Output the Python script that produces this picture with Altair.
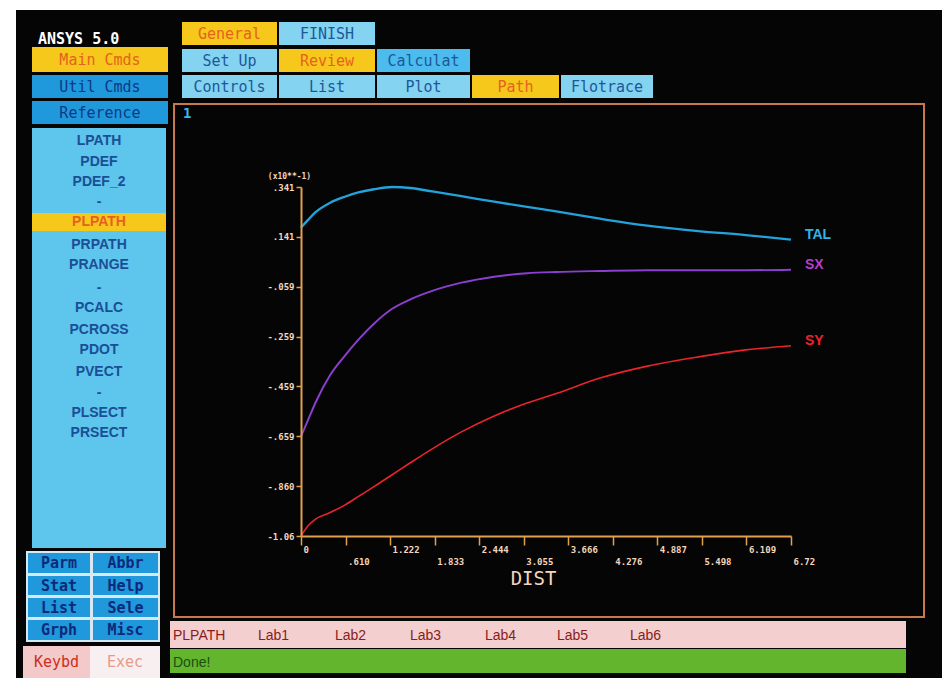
import json
import altair as alt
import pandas as pd

# ---------------- path plot data (PLPATH along DIST, values x10**-1) ----------------
DIST = [0.0, 0.1, 0.2, 0.4, 0.6, 0.8, 1.0, 1.25, 1.5, 1.8, 2.2, 2.65, 3.1, 3.5, 4.1, 4.75, 5.45, 6.1, 6.72]
TAL = [0.178, 0.210, 0.240, 0.278, 0.302, 0.320, 0.332, 0.341, 0.337, 0.323, 0.304, 0.282,
       0.261, 0.243, 0.214, 0.186, 0.164, 0.148, 0.130]
SX = [-0.660, -0.592, -0.524, -0.414, -0.337, -0.268, -0.208, -0.148, -0.110, -0.076, -0.043,
      -0.019, -0.005, 0.000, 0.004, 0.007, 0.007, 0.007, 0.009]
SY = [-1.060, -1.018, -0.992, -0.966, -0.936, -0.899, -0.862, -0.814, -0.766, -0.710, -0.642,
      -0.578, -0.526, -0.488, -0.426, -0.378, -0.341, -0.313, -0.296]
SERIES = ["TAL", "SX", "SY"]

X_TICKS = [0, 0.6109, 1.2218, 1.8327, 2.4436, 3.0545, 3.6655, 4.2764, 4.8873, 5.4982, 6.1091, 6.72]
X_TICK_LABELS = ["0", ".610", "1.222", "1.833", "2.444", "3.055", "3.666", "4.276", "4.887",
                 "5.498", "6.109", "6.72"]
Y_TICKS = [-1.06, -0.8599, -0.6597, -0.4596, -0.2594, -0.0593, 0.1409, 0.341]
Y_TICK_LABELS = ["-1.06", "-.860", "-.659", "-.459", "-.259", "-.059", ".141", ".341"]

# ---------------- menu texts ----------------
PANEL_ITEMS = ["LPATH", "PDEF", "PDEF_2", "-", "PLPATH", "PRPATH", "PRANGE", "-",
               "PCALC", "PCROSS", "PDOT", "PVECT", "-", "PLSECT", "PRSECT"]
TOOL_BUTTONS = ["Parm", "Abbr", "Stat", "Help", "List", "Sele", "Grph", "Misc"]
BAR_LABELS = ["PLPATH", "Lab1", "Lab2", "Lab3", "Lab4", "Lab5", "Lab6"]

# ---------------- palette ----------------
YELLOW, YELLOW_INK = "#f7c81c", "#e5621e"
CYAN, CYAN_INK = "#84d3f1", "#1c5898"
BLUE, BLUE_INK = "#1f98dc", "#0c3a86"
PANEL, PANEL_INK = "#5ec5ec", "#1a4f96"
AXIS_COLOR, AXIS_INK = "#e0a050", "#f4d6bc"
MONO, SANS = "DejaVu Sans Mono", "Liberation Sans"

# ---------------- screen layout (pixel boxes) ----------------
buttons = [  # label, x0, x1, y0, y1, fill, ink
    ("Main Cmds", 32, 168, 47, 72, YELLOW, YELLOW_INK),
    ("Util Cmds", 32, 168, 75, 98, BLUE, BLUE_INK),
    ("Reference", 32, 168, 101, 124, BLUE, BLUE_INK),
    ("General", 182, 277, 22, 45, YELLOW, YELLOW_INK),
    ("FINISH", 279, 375, 22, 45, CYAN, CYAN_INK),
    ("Set Up", 182, 277, 49, 72, CYAN, CYAN_INK),
    ("Review", 279, 375, 49, 72, YELLOW, YELLOW_INK),
    ("Calculat", 377, 470, 49, 72, "#4cbcef", CYAN_INK),
    ("Controls", 182, 277, 75, 98, CYAN, CYAN_INK),
    ("List", 279, 375, 75, 98, CYAN, CYAN_INK),
    ("Plot", 377, 470, 75, 98, CYAN, CYAN_INK),
    ("Path", 472, 559, 75, 98, YELLOW, YELLOW_INK),
    ("Flotrace", 561, 653, 75, 98, CYAN, CYAN_INK),
    ("Keybd", 23, 90, 646, 678, "#f3c9c9", "#c83020"),
    ("Exec", 90, 160, 646, 678, "#f8f0f0", "#e79a8a"),
]
btn_df = pd.DataFrame(buttons, columns=["label", "x0", "x1", "y0", "y1", "fill", "ink"])
btn_df["cx"] = (btn_df.x0 + btn_df.x1) / 2
btn_df["cy"] = (btn_df.y0 + btn_df.y1) / 2

grid_cols = [(28, 90), (93, 158)]
grid_rows = [(553, 573), (576, 595), (598, 617), (620, 640)]
tool_rows = []
for i, name in enumerate(TOOL_BUTTONS):
    (gx0, gx1), (gy0, gy1) = grid_cols[i % 2], grid_rows[i // 2]
    tool_rows.append((name, gx0, gx1, gy0, gy1, (gx0 + gx1) / 2, (gy0 + gy1) / 2))
tool_df = pd.DataFrame(tool_rows, columns=["label", "x0", "x1", "y0", "y1", "cx", "cy"])
tool_df["fill"] = BLUE

panel_y = [141, 162, 182, 202, 222, 245, 265, 288, 308, 330, 350, 372, 393, 413, 433]
panel_df = pd.DataFrame({"label": PANEL_ITEMS, "cy": panel_y})
panel_df["cx"] = 99
panel_df["ink"] = [YELLOW_INK if s == "PLPATH" else PANEL_INK for s in PANEL_ITEMS]

bar_df = pd.DataFrame({"label": BAR_LABELS + ["Done!"],
                       "x": [173, 258, 335, 410, 485, 557, 630, 173],
                       "y": [636] * 7 + [663],
                       "ink": ["#8a1c1c"] * 7 + ["#1e4d12"]})

background = [  # x0, x1, y0, y1, fill (drawn in this order)
    (16, 942, 10, 678, "#050505"),
    (32, 166, 128, 548, PANEL),
    (32, 166, 213, 231, YELLOW),
    (26, 160, 551, 642, "#d6e8f4"),
    (170, 906, 621, 648, "#f3cfcf"),
    (170, 906, 649, 673, "#62b52c"),
]
box_df = pd.concat([
    pd.DataFrame(background, columns=["x0", "x1", "y0", "y1", "fill"]),
    btn_df[["x0", "x1", "y0", "y1", "fill"]],
    tool_df[["x0", "x1", "y0", "y1", "fill"]],
], ignore_index=True)


def pix(field, ch):
    return ch(field, scale=None, axis=None)


boxes = alt.Chart(box_df).mark_rect().encode(
    x=pix("x0:Q", alt.X), x2="x1:Q", y=pix("y0:Q", alt.Y), y2="y1:Q",
    color=alt.Color("fill:N", scale=None),
)

frame = alt.Chart(pd.DataFrame({"x0": [174], "x1": [924], "y0": [104], "y1": [617]})).mark_rect(
    fillOpacity=0, stroke="#c8794c", strokeWidth=2
).encode(x=pix("x0:Q", alt.X), x2="x1:Q", y=pix("y0:Q", alt.Y), y2="y1:Q")

btn_text = alt.Chart(btn_df).mark_text(font=MONO, fontSize=15, align="center", baseline="middle").encode(
    x=pix("cx:Q", alt.X), y=pix("cy:Q", alt.Y), text="label:N", color=alt.Color("ink:N", scale=None)
)
tool_text = alt.Chart(tool_df).mark_text(font=MONO, fontSize=15, fontWeight="bold", align="center",
                                         baseline="middle", color="#0d2a7a").encode(
    x=pix("cx:Q", alt.X), y=pix("cy:Q", alt.Y), text="label:N"
)
panel_text = alt.Chart(panel_df).mark_text(font=SANS, fontSize=14, fontWeight="bold", align="center",
                                           baseline="middle").encode(
    x=pix("cx:Q", alt.X), y=pix("cy:Q", alt.Y), text="label:N", color=alt.Color("ink:N", scale=None)
)
bar_text = alt.Chart(bar_df).mark_text(font=SANS, fontSize=14, align="left", baseline="middle").encode(
    x=pix("x:Q", alt.X), y=pix("y:Q", alt.Y), text="label:N", color=alt.Color("ink:N", scale=None)
)
misc_df = pd.DataFrame({
    "label": ["ANSYS 5.0", "1"],
    "x": [38, 183], "y": [39, 114],
    "ink": ["#ffffff", "#3cb8f0"],
    "size": [15, 14],
})
misc_text = alt.Chart(misc_df).mark_text(font=MONO, fontWeight="bold", align="left", baseline="middle").encode(
    x=pix("x:Q", alt.X), y=pix("y:Q", alt.Y), text="label:N",
    color=alt.Color("ink:N", scale=None), size=alt.Size("size:Q", scale=None),
)

# ---------------- the path graph ----------------
n = len(DIST)
plot_df = pd.DataFrame({
    "DIST": DIST * 3,
    "value": TAL + SX + SY,
    "series": ["TAL"] * n + ["SX"] * n + ["SY"] * n,
})
end_df = plot_df.groupby("series", sort=False).tail(1)

x_scale = alt.Scale(domain=[0, 6.72], range=[301, 791], nice=False, zero=False)
y_scale = alt.Scale(domain=[-1.06, 0.341], range=[536, 187], nice=False, zero=False)

x_index = f"indexof({json.dumps(X_TICKS)}, datum.value)"
x_axis = alt.Axis(
    orient="bottom", offset=-142, values=X_TICKS, grid=False,
    labelExpr=f"{json.dumps(X_TICK_LABELS)}[{x_index}]",
    labelAlign="left", labelBaseline="top", labelOffset=2,
    labelPadding={"condition": {"test": f"{x_index} % 2 == 1", "value": 12}, "value": 0},
    labelOverlap=False, labelFlush=False,
    labelFont=MONO, labelFontSize=9, labelFontWeight="bold", labelColor=AXIS_INK,
    tickSize=9, tickColor=AXIS_COLOR, tickWidth=1.5,
    domainColor=AXIS_COLOR, domainWidth=2,
    title="DIST", titleFont=MONO, titleFontSize=19, titleFontWeight="normal", titleColor=AXIS_INK,
    titleX=533, titleY=42, titleAlign="center", titleBaseline="middle", zindex=1,
)
y_axis = alt.Axis(
    orient="left", offset=-301, values=Y_TICKS, grid=False,
    labelExpr=f"{json.dumps(Y_TICK_LABELS)}[indexof({json.dumps(Y_TICKS)}, datum.value)]",
    labelAlign="right", labelBaseline="middle", labelPadding=2,
    labelOverlap=False, labelFlush=False,
    labelFont=MONO, labelFontSize=9, labelFontWeight="bold", labelColor=AXIS_INK,
    tickSize=5, tickColor=AXIS_COLOR, tickWidth=1.5,
    domainColor=AXIS_COLOR, domainWidth=2,
    title="(x10**-1)", titleFont=MONO, titleFontSize=8, titleFontWeight="bold", titleColor=AXIS_INK,
    titleAngle=0, titleX=-12, titleY=176, titleAlign="center", titleBaseline="middle", zindex=1,
)

lines = alt.Chart(plot_df).mark_line(interpolate="monotone").encode(
    x=alt.X("DIST:Q", scale=x_scale, axis=x_axis),
    y=alt.Y("value:Q", scale=y_scale, axis=y_axis),
    color=alt.Color("series:N", scale=alt.Scale(domain=SERIES, range=["#23a3dc", "#8a3fd0", "#e8242c"]),
                    legend=None),
    strokeWidth=alt.StrokeWidth("series:N", scale=alt.Scale(domain=SERIES, range=[2.3, 1.6, 3]),
                                legend=None),
    detail="series:N",
)
line_labels = alt.Chart(end_df).mark_text(font=SANS, fontSize=14, fontWeight="bold", align="left",
                                          baseline="middle", dx=14, dy=-5).encode(
    x=alt.X("DIST:Q", scale=x_scale, axis=None),
    y=alt.Y("value:Q", scale=y_scale, axis=None),
    text="series:N",
    color=alt.Color("series:N", scale=alt.Scale(domain=SERIES, range=["#2eb4ea", "#b63ed2", "#f0222a"]),
                    legend=None),
)

chart = alt.layer(
    boxes, frame, btn_text, tool_text, panel_text, bar_text, misc_text, lines, line_labels
).resolve_scale(
    x="independent", y="independent", color="independent", size="independent", strokeWidth="independent"
).properties(
    width=951, height=678, padding=0, autosize=alt.AutoSizeParams(type="none")
).configure(background="#ffffff").configure_view(stroke=None)

chart.save("out.html", embed_options={"renderer": "svg", "actions": False})
